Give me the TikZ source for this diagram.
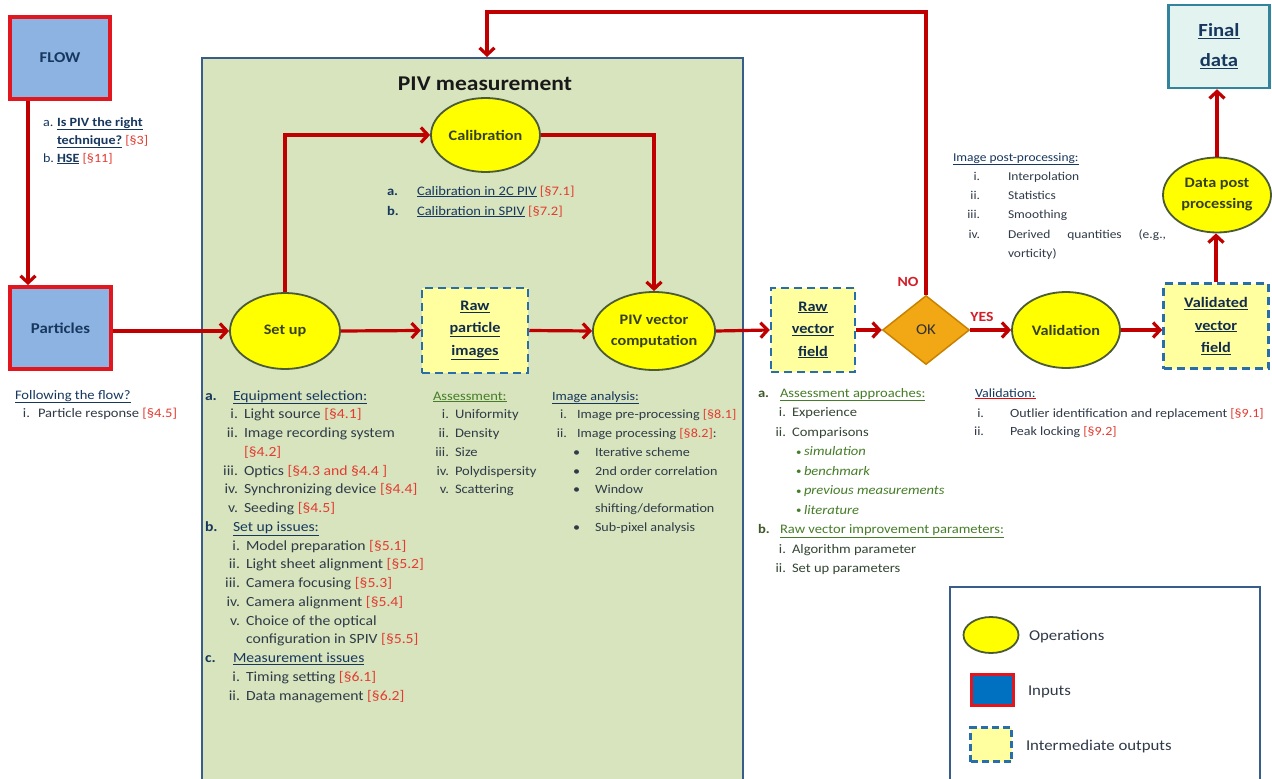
\documentclass[tikz,border=0pt]{standalone}
\usepackage{fontspec}
\setmainfont{Carlito}[FakeStretch=1.12]
\usetikzlibrary{shapes.geometric,arrows.meta,calc}
\definecolor{arrred}{RGB}{192,0,0}
\definecolor{inred}{RGB}{226,22,30}
\definecolor{inblue}{RGB}{141,179,226}
\definecolor{legblue}{RGB}{0,112,192}
\definecolor{navy}{RGB}{23,55,94}
\definecolor{itc}{RGB}{48,58,72}
\definecolor{refc}{RGB}{228,60,50}
\definecolor{grn}{RGB}{70,125,40}
\definecolor{dgrn}{RGB}{62,88,40}
\definecolor{gitem}{RGB}{52,70,52}
\definecolor{pivfill}{RGB}{215,228,189}
\definecolor{pivline}{RGB}{56,93,138}
\definecolor{opfill}{RGB}{255,255,0}
\definecolor{opline}{RGB}{75,90,55}
\definecolor{optext}{RGB}{55,65,30}
\definecolor{dfill}{RGB}{255,255,160}
\definecolor{dline}{RGB}{40,110,170}
\definecolor{okfill}{RGB}{242,168,20}
\definecolor{okline}{RGB}{200,130,0}
\definecolor{finfill}{RGB}{226,243,240}
\definecolor{finline}{RGB}{49,132,155}
\definecolor{notext}{RGB}{210,30,40}
\newcommand\uln[1]{\underline{#1}}
\newcommand\rf[1]{\textcolor{refc}{[§#1]}}
\newcommand\hd[1]{\textcolor{navy}{\uln{#1}}}
\newcommand\gh[1]{\textcolor{grn}{\uln{#1}}}
\newcommand\sbul{\raisebox{0.5pt}{\scalebox{0.75}{•}}}
\newcounter{nn}
\newcommand\TX[3][]{\stepcounter{nn}\node[txt,#1] (n\arabic{nn}) at (#2) {#3};}
\newcommand\RN[3][]{\stepcounter{nn}\node[txt,anchor=base east,#1] (n\arabic{nn}) at (#2) {#3};}
\tikzset{
 txt/.style={anchor=base west, inner sep=0pt, outer sep=0pt, text=itc, font=\fontsize{13}{15}\selectfont},
 sm/.style={font=\fontsize{12}{14}\selectfont},
 fl/.style={font=\fontsize{12.6}{14}\selectfont},
 su/.style={font=\fontsize{14}{16}\selectfont},
 ia/.style={font=\fontsize{12.6}{15}\selectfont},
 va/.style={font=\fontsize{12.5}{15}\selectfont},
 lg/.style={font=\fontsize{15}{17}\selectfont},
 arr/.style={draw=arrred, line width=3.2pt, -{Straight Barb[length=7pt,width=15pt]}},
 inbox/.style={rectangle, draw=inred, fill=inblue, line width=4pt, text=navy, font=\bfseries\fontsize{15}{18}\selectfont},
 op/.style={ellipse, draw=opline, fill=opfill, line width=1.8pt, inner sep=0pt, text=optext, align=center, font=\bfseries\fontsize{14.5}{21}\selectfont},
 interm/.style={rectangle, draw=dline, fill=dfill, line width=2.5pt, dash pattern=on 8pt off 5pt, inner sep=0pt, align=center, text=navy!80!black, font=\bfseries\fontsize{14.5}{22.5}\selectfont},
}
\begin{document}
\begin{tikzpicture}[x=1pt,y=-1pt]
\clip (0,0) rectangle (1272,779);
\fill[white] (0,0) rectangle (1272,779);
% PIV measurement panel
\node[rectangle, draw=pivline, fill=pivfill, line width=2pt, minimum width=541pt, minimum height=732pt, inner sep=0pt] (piv) at (472.5,424) {};
\node[font=\bfseries\fontsize{21}{24}\selectfont, text=black!90] (title) at (485,84) {PIV measurement};
% inputs
\node[inbox, minimum width=100pt, minimum height=82pt] (flow) at (60,58) {FLOW};
\node[inbox, minimum width=101pt, minimum height=82pt] (particles) at (60.5,328) {Particles};
\coordinate (fx) at (28,0);
\draw[arr] (flow.south -| fx) -- (particles.north -| fx);
% operations
\node[op, minimum width=110pt, minimum height=76pt] (setup) at (285,331) {Set up};
\node[op, minimum width=109pt, minimum height=74pt] (calib) at (485.5,135) {Calibration};
\node[op, minimum width=108pt, minimum height=78pt] (pivvec) at (654,331) {PIV vector\\computation};
\node[op, minimum width=108pt, minimum height=76pt] (valid) at (1066,330) {Validation};
\node[op, minimum width=108pt, minimum height=75pt] (dpp) at (1217,195) {Data post\\processing};
% intermediate outputs
\node[interm, minimum width=106pt, minimum height=85pt] (raw) at (475,330.5) {\uln{Raw}\\\uln{particle}\\\uln{images}};
\node[interm, minimum width=84pt, minimum height=84pt] (rvf) at (813,330) {\uln{Raw}\\\uln{vector}\\\uln{field}};
\node[interm, minimum width=105pt, minimum height=85pt] (vvf) at (1216,326) {\uln{Validated}\\\uln{vector}\\\uln{field}};
% decision
\node[diamond, draw=okline, fill=okfill, line width=1.5pt, minimum width=87pt, minimum height=69pt, inner sep=0pt, text=black!80, font=\fontsize{15}{18}\selectfont] (ok) at (926,330) {OK};
% final data
\node[rectangle, draw=finline, fill=finfill, line width=2.5pt, minimum width=101pt, minimum height=83pt, inner sep=0pt, align=center, text=navy, font=\bfseries\fontsize{18.5}{30}\selectfont] (final) at (1219,46.5) {\uln{Final}\\\uln{data}};
% connectors
\draw[arr] (particles.east |- setup.west) -- (setup.west);
\draw[arr] (setup.north) |- (calib.west);
\draw[arr] (calib.east) -| (pivvec.north);
\draw[arr] (setup.east) -- (raw.west);
\draw[arr] (raw.east) -- (pivvec.west);
\draw[arr] (pivvec.east) -- (rvf.west);
\draw[arr] (rvf.east) -- (ok.west);
\draw[arr] (ok.east) -- (valid.west);
\draw[arr] (valid.east) -- (valid.east -| vvf.west);
\draw[arr] (vvf.north) -- (vvf.north |- dpp.south);
\draw[arr] (dpp.north) -- (dpp.north |- final.south);
\coordinate (tl) at (487,12);
\draw[arr] (ok.north) |- (tl) -- (tl |- piv.north);
\node[font=\bfseries\fontsize{14}{16}\selectfont, text=notext] (no) at (908,282) {NO};
\node[font=\bfseries\fontsize{14}{16}\selectfont, text=notext] (yes) at (982,317) {YES};
% FLOW notes
\TX[fl]{43,126}{\textcolor{navy}{a.}}
\TX[fl]{57,126}{\textcolor{navy}{\bfseries\uln{Is PIV the right}}}
\TX[fl]{57,144}{\textcolor{navy}{\bfseries\uln{technique?}} \rf{3}}
\TX[fl]{43,162}{\textcolor{navy}{b.}}
\TX[fl]{57,162}{\textcolor{navy}{\bfseries\uln{HSE}} \rf{11}}
% particles notes
\TX{15,399}{\hd{Following the flow?}}
\RN{30,417}{i.}
\TX{38,417}{Particle response \rf{4.5}}
% calibration notes
\TX{387,195}{\textcolor{navy}{\bfseries a.}}
\TX{417,195}{\hd{Calibration in 2C PIV} \rf{7.1}}
\TX{387,215}{\textcolor{navy}{\bfseries b.}}
\TX{417,215}{\hd{Calibration in SPIV} \rf{7.2}}
% set up notes
\TX[su]{205,400}{\textcolor{navy}{\bfseries a.}}
\TX[su]{233,400}{\hd{Equipment selection:}}
\RN[su]{238,418.75}{i.}\TX[su]{244,418.75}{Light source \rf{4.1}}
\RN[su]{238,437.5}{ii.}\TX[su]{244,437.5}{Image recording system}
\TX[su]{244,456.25}{\rf{4.2}}
\RN[su]{238,475}{iii.}\TX[su]{244,475}{Optics \rf{4.3 and §4.4 }}
\RN[su]{238,493.75}{iv.}\TX[su]{244,493.75}{Synchronizing device \rf{4.4}}
\RN[su]{238,512.5}{v.}\TX[su]{244,512.5}{Seeding \rf{4.5}}
\TX[su]{205,531.25}{\textcolor{navy}{\bfseries b.}}
\TX[su]{233,531.25}{\hd{Set up issues:}}
\RN[su]{240,550}{i.}\TX[su]{246,550}{Model preparation \rf{5.1}}
\RN[su]{240,568.75}{ii.}\TX[su]{246,568.75}{Light sheet alignment \rf{5.2}}
\RN[su]{240,587.5}{iii.}\TX[su]{246,587.5}{Camera focusing \rf{5.3}}
\RN[su]{240,606.25}{iv.}\TX[su]{246,606.25}{Camera alignment \rf{5.4}}
\RN[su]{240,625}{v.}\TX[su]{246,625}{Choice of the optical}
\TX[su]{246,643.75}{configuration in SPIV \rf{5.5}}
\TX[su]{205,662.5}{\textcolor{navy}{\bfseries c.}}
\TX[su]{233,662.5}{\hd{Measurement issues}}
\RN[su]{240,681.25}{i.}\TX[su]{246,681.25}{Timing setting \rf{6.1}}
\RN[su]{240,700}{ii.}\TX[su]{246,700}{Data management \rf{6.2}}
% assessment notes
\TX{433,400}{\gh{Assessment:}}
\RN{449,418.75}{i.}\TX{455,418.75}{Uniformity}
\RN{449,437.5}{ii.}\TX{455,437.5}{Density}
\RN{449,456.25}{iii.}\TX{455,456.25}{Size}
\RN{449,475}{iv.}\TX{455,475}{Polydispersity}
\RN{449,493.75}{v.}\TX{455,493.75}{Scattering}
% image analysis notes
\TX[ia]{552,400}{\hd{Image analysis:}}
\RN[ia]{567,418.75}{i.}\TX[ia]{577,418.75}{Image pre-processing \rf{8.1}}
\RN[ia]{567,437.5}{ii.}\TX[ia]{577,437.5}{Image processing \rf{8.2}:}
\TX[ia]{573,456.25}{•}\TX[ia]{595,456.25}{Iterative scheme}
\TX[ia]{573,475}{•}\TX[ia]{595,475}{2nd order correlation}
\TX[ia]{573,493.75}{•}\TX[ia]{595,493.75}{Window}
\TX[ia]{595,512.5}{shifting/deformation}
\TX[ia]{573,531.25}{•}\TX[ia]{595,531.25}{Sub-pixel analysis}
% raw vector notes
\TX{758,397}{\textcolor{dgrn}{\bfseries a.}}
\TX{780,397}{\gh{Assessment approaches:}}
\RN[text=gitem]{786,416.5}{i.}\TX[text=gitem]{792,416.5}{Experience}
\RN[text=gitem]{786,436}{ii.}\TX[text=gitem]{792,436}{Comparisons}
\TX[text=grn]{796,455.5}{\sbul}\TX[text=grn]{804,455.5}{\itshape simulation}
\TX[text=grn]{796,475}{\sbul}\TX[text=grn]{804,475}{\itshape benchmark}
\TX[text=grn]{796,494.5}{\sbul}\TX[text=grn]{804,494.5}{\itshape previous measurements}
\TX[text=grn]{796,514}{\sbul}\TX[text=grn]{804,514}{\itshape literature}
\TX{758,533.5}{\textcolor{dgrn}{\bfseries b.}}
\TX{780,533.5}{\gh{Raw vector improvement parameters:}}
\RN[text=gitem]{786,553}{i.}\TX[text=gitem]{792,553}{Algorithm parameter}
\RN[text=gitem]{786,572.5}{ii.}\TX[text=gitem]{792,572.5}{Set up parameters}
% image post-processing
\TX[sm]{953,161}{\hd{Image post-processing:}}
\RN[sm]{980,180.3}{i.}\TX[sm]{1008,180.3}{Interpolation}
\RN[sm]{980,199.6}{ii.}\TX[sm]{1008,199.6}{Statistics}
\RN[sm]{980,218.9}{iii.}\TX[sm]{1008,218.9}{Smoothing}
\RN[sm]{980,238.2}{iv.}\TX[sm]{1008,238.2}{\makebox[158pt][s]{Derived quantities (e.g.,}}
\TX[sm]{1008,257.5}{vorticity)}
% validation notes
\TX[va]{975,397}{\textcolor{red}{\uln{\textcolor{navy}{Validation:}}}}
\RN[va]{984,417}{i.}\TX[va]{1010,417}{Outlier identification and replacement \rf{9.1}}
\RN[va]{984,435}{ii.}\TX[va]{1010,435}{Peak locking \rf{9.2}}
% legend
\node[rectangle, draw=pivline, line width=2pt, minimum width=310pt, minimum height=220pt, inner sep=0pt] (legend) at (1105,697) {};
\node[ellipse, draw=opline, fill=opfill, line width=1.8pt, minimum width=55pt, minimum height=36pt, inner sep=0pt] (lop) at (991,635) {};
\TX[lg]{1029,640}{Operations}
\node[rectangle, draw=inred, fill=legblue, line width=3pt, minimum width=42pt, minimum height=31pt, inner sep=0pt] (lin) at (992,689.5) {};
\TX[lg]{1028,695}{Inputs}
\node[rectangle, draw=dline, fill=dfill, line width=2.5pt, dash pattern=on 7pt off 4pt, minimum width=41pt, minimum height=34pt, inner sep=0pt] (lint) at (991,744.5) {};
\TX[lg]{1026,750}{Intermediate outputs}
\end{tikzpicture}
\end{document}
